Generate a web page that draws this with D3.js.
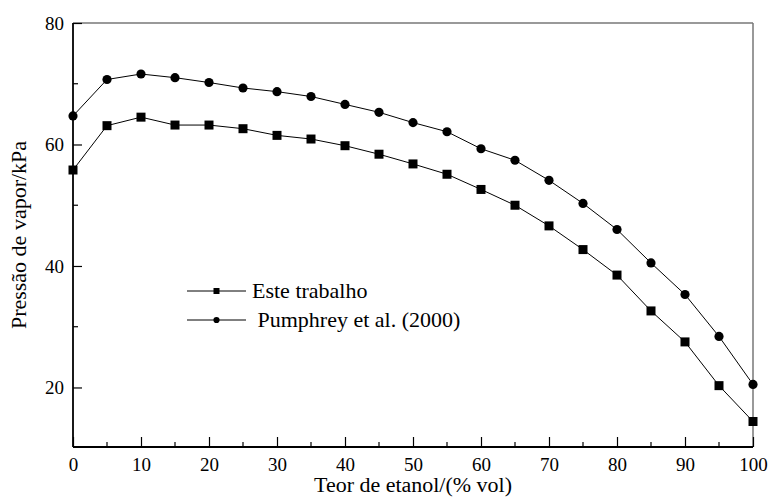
<!DOCTYPE html>
<html>
<head>
  <meta charset="UTF-8">
  <title>Pressão de vapor</title>
  <script src="https://cdnjs.cloudflare.com/ajax/libs/d3/7.8.5/d3.min.js"></script>
  <style>
    body { margin: 0; background: #fff; }
  </style>
</head>
<body>
<script>
  // Data
  const etanol = [0, 5, 10, 15, 20, 25, 30, 35, 40, 45, 50, 55, 60, 65, 70, 75, 80, 85, 90, 95, 100];
  const esteTrabalho = [55.8, 63.1, 64.5, 63.2, 63.2, 62.6, 61.5, 60.9, 59.8, 58.4, 56.8, 55.1, 52.6, 50.0, 46.6, 42.7, 38.5, 32.6, 27.5, 20.3, 14.4];
  const pumphrey = [64.7, 70.7, 71.6, 71.0, 70.2, 69.3, 68.7, 67.9, 66.6, 65.3, 63.6, 62.1, 59.3, 57.4, 54.1, 50.3, 46.0, 40.5, 35.3, 28.4, 20.5];
  const xTicks = [0, 10, 20, 30, 40, 50, 60, 70, 80, 90, 100];
  const yTicks = [20, 40, 60, 80];
  const seriesNames = ["Este trabalho", "\u00a0Pumphrey et al. (2000)"];

  const W = 770, H = 497;
  const m = {left: 73, right: 17, top: 23, bottom: 50};
  const FONT = "'Liberation Serif', 'Times New Roman', serif";

  const svg = d3.select("body").append("svg")
    .attr("width", W).attr("height", H);

  const x = d3.scaleLinear().domain([0, 100]).range([m.left, W - m.right]);
  const y = d3.scaleLinear().domain([10.2, 80]).range([H - m.bottom, m.top]);

  // top and right frame
  svg.append("line")
    .attr("x1", m.left).attr("x2", W - m.right)
    .attr("y1", m.top).attr("y2", m.top)
    .attr("stroke", "#777").attr("stroke-width", 1.5);
  svg.append("line")
    .attr("x1", W - m.right).attr("x2", W - m.right)
    .attr("y1", m.top).attr("y2", H - m.bottom)
    .attr("stroke", "#777").attr("stroke-width", 1.5);

  // minor ticks
  const xMinor = d3.range(5, 100, 10);
  const yMinor = [30, 50, 70];
  svg.append("g").selectAll("line").data(xMinor).join("line")
    .attr("x1", d => x(d)).attr("x2", d => x(d))
    .attr("y1", H - m.bottom).attr("y2", H - m.bottom - 5)
    .attr("stroke", "#000").attr("stroke-width", 1.2);
  svg.append("g").selectAll("line").data(yMinor).join("line")
    .attr("x1", m.left).attr("x2", m.left + 5)
    .attr("y1", d => y(d)).attr("y2", d => y(d))
    .attr("stroke", "#000").attr("stroke-width", 1.2);

  // axes
  const xAxis = svg.append("g")
    .attr("transform", `translate(0,${H - m.bottom})`)
    .call(d3.axisTop(x).tickValues(xTicks).tickSize(10).tickFormat(d3.format("d")));
  xAxis.selectAll(".tick text").attr("y", 24).attr("dy", 0);

  const yAxis = svg.append("g")
    .attr("transform", `translate(${m.left},0)`)
    .call(d3.axisRight(y).tickValues(yTicks).tickSize(9).tickFormat(d3.format("d")));
  yAxis.selectAll(".tick text").attr("x", -9).attr("text-anchor", "end").attr("dy", "0.33em");

  [xAxis, yAxis].forEach(g => {
    g.attr("font-family", FONT).attr("font-size", 19);
    g.selectAll(".tick text").attr("fill", "#000");
    g.select(".domain").attr("stroke", "#000").attr("stroke-width", 1.8);
    g.selectAll(".tick line").attr("stroke", "#000").attr("stroke-width", 1.2);
  });
  yAxis.select(".domain").attr("d", `M0,${H - m.bottom}V${m.top}`);
  xAxis.select(".domain").attr("d", `M${m.left},0H${W - m.right}`);

  // axis titles
  svg.append("text")
    .attr("x", (m.left + W - m.right) / 2).attr("y", 492)
    .attr("text-anchor", "middle")
    .attr("font-family", FONT).attr("font-size", 20)
    .attr("textLength", 198).attr("lengthAdjust", "spacingAndGlyphs")
    .text("Teor de etanol/(% vol)");
  svg.append("text")
    .attr("transform", `translate(26,${(m.top + H - m.bottom) / 2}) rotate(-90)`)
    .attr("text-anchor", "middle")
    .attr("font-family", FONT).attr("font-size", 22)
    .text("Pressão de vapor/kPa");

  // lines and markers
  const line = d3.line().x(d => x(d[0])).y(d => y(d[1]));
  const sq = d3.symbol().type(d3.symbolSquare);
  const ci = d3.symbol().type(d3.symbolCircle);

  const series = [
    {vals: esteTrabalho, sym: sq, size: 81},
    {vals: pumphrey, sym: ci, size: 66}
  ];

  series.forEach(s => {
    const pts = etanol.map((e, i) => [e, s.vals[i]]);
    svg.append("path").datum(pts)
      .attr("d", line).attr("fill", "none")
      .attr("stroke", "#000").attr("stroke-width", 1);
    svg.append("g").selectAll("path").data(pts).join("path")
      .attr("transform", d => `translate(${x(d[0])},${y(d[1])})`)
      .attr("d", s.sym.size(s.size)())
      .attr("fill", "#000");
  });

  // legend
  const leg = svg.append("g");
  const legY = [291, 320];
  series.forEach((s, i) => {
    leg.append("line")
      .attr("x1", 187).attr("x2", 246)
      .attr("y1", legY[i]).attr("y2", legY[i])
      .attr("stroke", "#000").attr("stroke-width", 1);
    leg.append("path")
      .attr("transform", `translate(216.5,${legY[i]})`)
      .attr("d", s.sym.size(i === 0 ? 36 : 30)())
      .attr("fill", "#000");
    leg.append("text")
      .attr("x", 252).attr("y", legY[i]).attr("dy", "0.33em")
      .attr("font-family", FONT).attr("font-size", 22)
      .text(seriesNames[i]);
  });
</script>
</body>
</html>
